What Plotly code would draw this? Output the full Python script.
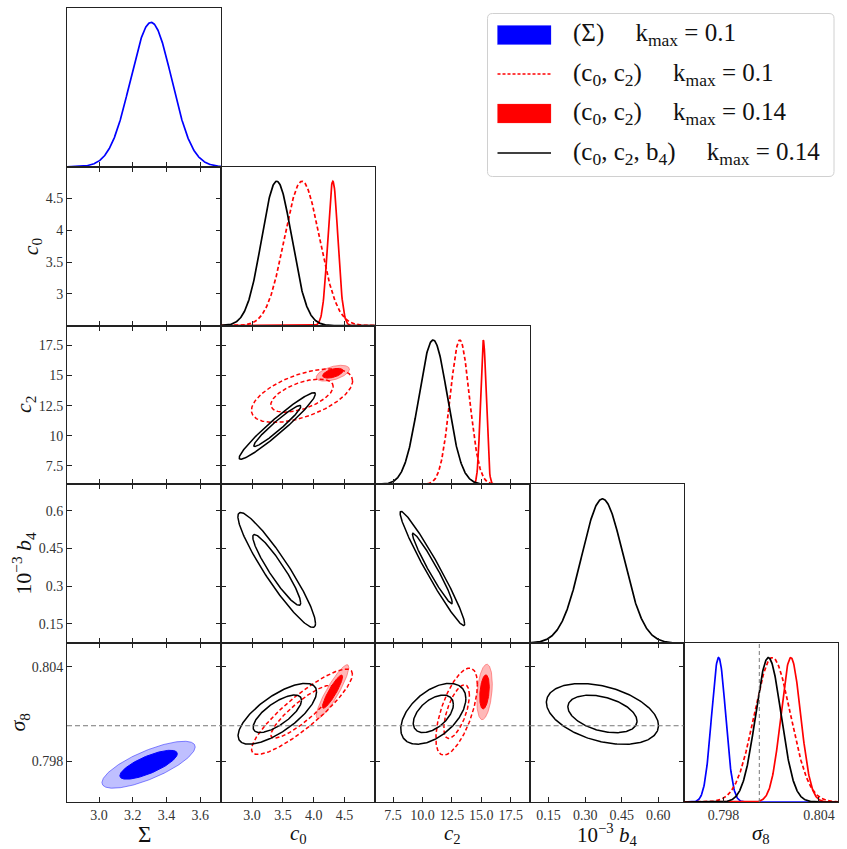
import numpy as np
import plotly.graph_objects as go

# ---------------- values ----------------
param_titles = ["Σ", "<i>c</i><sub>0</sub>", "<i>c</i><sub>2</sub>",
                "10<sup>−3</sup> <i>b</i><sub>4</sub>", "<i>σ</i><sub>8</sub>"]
x_ranges = [[2.81, 3.725], [2.5, 5.0], [6.0, 19.1], [0.072, 0.705], [0.7955, 0.8052]]
y_ranges = [None, [2.5, 5.0], [5.95, 19.15], [0.072, 0.705], [0.7954, 0.8055]]
tick_vals = [[3.0, 3.2, 3.4, 3.6], [3.0, 3.5, 4.0, 4.5], [7.5, 10.0, 12.5, 15.0, 17.5],
             [0.15, 0.30, 0.45, 0.60], [0.798, 0.804]]
x_tick_text = [["3.0", "3.2", "3.4", "3.6"], ["3.0", "3.5", "4.0", "4.5"],
               ["7.5", "10.0", "12.5", "15.0", "17.5"], ["0.15", "0.30", "0.45", "0.60"],
               ["0.798", "0.804"]]
y_tick_text = [None, ["3", "3.5", "4", "4.5"], ["7.5", "10", "12.5", "15", "17.5"],
               ["0.15", "0.3", "0.45", "0.6"], ["0.798", "0.804"]]

SP = "&nbsp;" * 5
legend_labels = [
    f"(Σ){SP}k<sub>max</sub> = 0.1",
    f"(c<sub>0</sub>, c<sub>2</sub>){SP}k<sub>max</sub> = 0.1",
    f"(c<sub>0</sub>, c<sub>2</sub>){SP}k<sub>max</sub> = 0.14",
    f"(c<sub>0</sub>, c<sub>2</sub>, b<sub>4</sub>){SP}k<sub>max</sub> = 0.14",
]
sigma8_fiducial = 0.80025
contour_masses = [0.68, 0.95]

# models: 0 = (Σ) k0.1 blue, 1 = (c0,c2) k0.1 red dashed,
#         2 = (c0,c2) k0.14 red filled, 3 = (c0,c2,b4) k0.14 black
# 1D marginals (mean, sd) per model, None = parameter not in model
marg_sigma = [(3.309, 0.122), None, None, None]
marg_c0 = [None, (3.81, 0.285), (4.31, 0.082), (3.40, 0.243)]
marg_c2 = [None, (13.17, 0.82), (15.17, 0.24), (10.90, 1.215)]
marg_b4 = [None, None, None, (0.371, 0.085)]
marg_s8 = [(0.79769, 0.00044), (0.80107, 0.00114), (0.80223, 0.00062), (0.80082, 0.00080)]

# 2D contours (mean x, mean y, sd x, sd y, correlation) per model
ell_s8_sigma = [(3.294, 0.79777, 0.113, 0.00061, 0.76), None, None, None]
ell_c2_c0 = [None, (3.81, 13.33, 0.335, 0.91, 0.55), (4.31, 15.19, 0.11, 0.27, 0.5),
             (3.41, 10.81, 0.253, 1.13, 0.96)]
ell_b4_c0 = [None, None, None, (3.40, 0.364, 0.257, 0.0936, -0.93)]
ell_b4_c2 = [None, None, None, (10.84, 0.37, 1.12, 0.093, -0.97)]
ell_s8_c0 = [None, (3.81, 0.80114, 0.334, 0.00111, 0.88), (4.305, 0.80242, 0.108, 0.0007, 0.9),
             (3.41, 0.80101, 0.26, 0.00079, 0.72)]
ell_s8_c2 = [None, (12.9, 0.80115, 0.72, 0.00113, 0.62), (15.27, 0.8024, 0.27, 0.00072, 0.3),
             (10.92, 0.80101, 1.13, 0.00079, 0.5)]
ell_s8_b4 = [None, None, None, (0.371, 0.801, 0.094, 0.00079, -0.38)]

# ---------------- assembly ----------------
marginals = [marg_sigma, marg_c0, marg_c2, marg_b4, marg_s8]
panels2d = {(4, 0): ell_s8_sigma, (2, 1): ell_c2_c0, (3, 1): ell_b4_c0, (3, 2): ell_b4_c2,
            (4, 1): ell_s8_c0, (4, 2): ell_s8_c2, (4, 3): ell_s8_b4}

styles = [
    dict(kind="fill", color="#0000ff", light="rgba(0,0,255,0.25)", edge="rgba(40,40,255,0.55)"),
    dict(kind="line", color="#ff0000", dash="4px,2.5px"),
    dict(kind="fill", color="#ff0000", light="rgba(255,0,0,0.28)", edge="rgba(255,60,60,0.5)"),
    dict(kind="line", color="#000000", dash="solid"),
]
draw_order = [0, 2, 1, 3]

N = 5
W, H = 847, 849
ML, MR, MT, MB = 67, 9, 8, 47
PW, PH = W - ML - MR, H - MT - MB
FONT = "Liberation Serif"
AXC = "#222222"


def ax_num(i, j):
    return i * (i + 1) // 2 + j + 1


def refs(n):
    return ("x" if n == 1 else f"x{n}"), ("y" if n == 1 else f"y{n}")


def px(xp):
    """page pixel x -> paper coordinate"""
    return (xp - ML) / PW


def py(yp):
    """page pixel y -> paper coordinate"""
    return (H - MB - yp) / PH


def ellipse(p, mass):
    mx, my, sx, sy, rho = p
    r = np.sqrt(-2.0 * np.log(1.0 - mass))
    t = np.linspace(0, 2 * np.pi, 241)
    cov = np.array([[sx * sx, rho * sx * sy], [rho * sx * sy, sy * sy]])
    L = np.linalg.cholesky(cov)
    pts = r * L @ np.vstack([np.cos(t), np.sin(t)])
    return mx + pts[0], my + pts[1]


fig = go.Figure()
layout = {}
annotations = []

for i in range(N):
    for j in range(i + 1):
        n = ax_num(i, j)
        xr, yr = refs(n)
        xname = "xaxis" if n == 1 else f"xaxis{n}"
        yname = "yaxis" if n == 1 else f"yaxis{n}"
        xa = dict(domain=[j / N, (j + 1) / N], range=x_ranges[j], anchor=yr,
                  showgrid=False, zeroline=False, showline=True, linecolor=AXC, linewidth=1.1,
                  ticks="inside", ticklen=5, tickwidth=1, tickcolor=AXC,
                  tickvals=tick_vals[j], ticktext=x_tick_text[j],
                  showticklabels=(i == N - 1),
                  tickfont=dict(family=FONT, size=14, color="#333"))
        ya = dict(domain=[1 - (i + 1) / N, 1 - i / N], anchor=xr,
                  showgrid=False, zeroline=False, showline=True, linecolor=AXC, linewidth=1.1,
                  tickfont=dict(family=FONT, size=14, color="#333"))
        if i == j:
            xa["mirror"] = True
            ya.update(range=[0, 1.1], ticks="", showticklabels=False, mirror=True)
        else:
            xa["mirror"] = "ticks"
            ya.update(range=y_ranges[i], ticks="inside", ticklen=5, tickwidth=1, tickcolor=AXC,
                      tickvals=tick_vals[i], ticktext=y_tick_text[i], mirror="ticks",
                      showticklabels=(j == 0))
        layout[xname] = xa
        layout[yname] = ya

        # an empty trace makes sure every panel frame is drawn
        fig.add_trace(go.Scatter(x=[], y=[], xaxis=xr, yaxis=yr, mode="lines",
                                 showlegend=False, hoverinfo="skip"))

        if i == j:
            xs = np.linspace(x_ranges[j][0], x_ranges[j][1], 400)
            for m in draw_order:
                mp = marginals[j][m]
                if mp is None:
                    continue
                mu, sd = mp
                yv = np.exp(-0.5 * ((xs - mu) / sd) ** 2)
                st = styles[m]
                fig.add_trace(go.Scatter(x=xs, y=yv, xaxis=xr, yaxis=yr, mode="lines",
                                         line=dict(color=st["color"], width=1.7,
                                                   dash=st.get("dash", "solid")),
                                         showlegend=False, hoverinfo="skip"))
        elif (i, j) in panels2d:
            plist = panels2d[(i, j)]
            for m in draw_order:
                p = plist[m]
                if p is None:
                    continue
                st = styles[m]
                if st["kind"] == "fill":
                    ex, ey = ellipse(p, contour_masses[1])
                    fig.add_trace(go.Scatter(x=ex, y=ey, xaxis=xr, yaxis=yr, mode="lines",
                                             fill="toself", fillcolor=st["light"],
                                             line=dict(color=st["edge"], width=1),
                                             showlegend=False, hoverinfo="skip"))
                    ex, ey = ellipse(p, contour_masses[0])
                    fig.add_trace(go.Scatter(x=ex, y=ey, xaxis=xr, yaxis=yr, mode="lines",
                                             fill="toself", fillcolor=st["color"],
                                             line=dict(color=st["color"], width=1),
                                             showlegend=False, hoverinfo="skip"))
                else:
                    for mass in contour_masses:
                        ex, ey = ellipse(p, mass)
                        fig.add_trace(go.Scatter(x=ex, y=ey, xaxis=xr, yaxis=yr, mode="lines",
                                                 line=dict(color=st["color"], width=1.5,
                                                           dash=st["dash"]),
                                                 showlegend=False, hoverinfo="skip"))

# axis titles (as annotations for exact placement under / beside the panels)
x_title_y = 834
y_title_x = [None, 32, 25, 24, 19]
for j in range(N):
    annotations.append(dict(xref="paper", yref="paper", x=(j + 0.5) / N, y=py(x_title_y),
                            xanchor="center", yanchor="middle", showarrow=False,
                            text=param_titles[j],
                            font=dict(family=FONT, size=23 if j == 0 else 21, color="#111")))
for i in range(1, N):
    annotations.append(dict(xref="paper", yref="paper", x=px(y_title_x[i]),
                            y=1 - (i + 0.5) / N, xanchor="center", yanchor="middle",
                            textangle=-90, showarrow=False, text=param_titles[i],
                            font=dict(family=FONT, size=22, color="#111")))

# fiducial sigma8 reference lines
shapes = []
for j in range(N - 1):
    n = ax_num(N - 1, j)
    xr, yr = refs(n)
    shapes.append(dict(type="line", xref=f"{xr} domain", yref=yr, x0=0, x1=1,
                       y0=sigma8_fiducial, y1=sigma8_fiducial,
                       line=dict(color="#777", width=1, dash="5px,3px")))
n = ax_num(N - 1, N - 1)
xr, yr = refs(n)
shapes.append(dict(type="line", xref=xr, yref=f"{yr} domain", x0=sigma8_fiducial,
                   x1=sigma8_fiducial, y0=0, y1=1,
                   line=dict(color="#777", width=1, dash="4px,3px")))

# hand-drawn legend box
bx0, bx1, by0, by1, rad = 487.5, 834, 13.5, 176.5, 5
path = (f"M {px(bx0 + rad)},{py(by0)} L {px(bx1 - rad)},{py(by0)} "
        f"Q {px(bx1)},{py(by0)} {px(bx1)},{py(by0 + rad)} L {px(bx1)},{py(by1 - rad)} "
        f"Q {px(bx1)},{py(by1)} {px(bx1 - rad)},{py(by1)} L {px(bx0 + rad)},{py(by1)} "
        f"Q {px(bx0)},{py(by1)} {px(bx0)},{py(by1 - rad)} L {px(bx0)},{py(by0 + rad)} "
        f"Q {px(bx0)},{py(by0)} {px(bx0 + rad)},{py(by0)} Z")
shapes.append(dict(type="path", xref="paper", yref="paper", path=path,
                   fillcolor="white", line=dict(color="#d0d0d0", width=1), layer="above"))

row_centers = [35, 74, 113.5, 153]
sym_x0, sym_x1 = 497.5, 551
for m, yc in enumerate(row_centers):
    st = styles[m]
    if st["kind"] == "fill":
        shapes.append(dict(type="rect", xref="paper", yref="paper",
                           x0=px(sym_x0), x1=px(sym_x1), y0=py(yc - 9.5), y1=py(yc + 9.5),
                           fillcolor=st["color"], line=dict(color=st["edge"], width=0.5),
                           layer="above"))
    else:
        shapes.append(dict(type="line", xref="paper", yref="paper",
                           x0=px(sym_x0), x1=px(sym_x1), y0=py(yc), y1=py(yc),
                           line=dict(color=st["color"], width=1.3 if m == 1 else 1.6,
                                     dash="3px,2px" if m == 1 else "solid"),
                           layer="above"))

for m, yc in enumerate(row_centers):
    annotations.append(dict(xref="paper", yref="paper", x=px(571), y=py(yc),
                            xanchor="left", yanchor="middle", showarrow=False,
                            text=legend_labels[m],
                            font=dict(family=FONT, size=25, color="#111")))

layout.update(width=W, height=H, margin=dict(l=ML, r=MR, t=MT, b=MB),
              paper_bgcolor="white", plot_bgcolor="white", showlegend=False,
              shapes=shapes, annotations=annotations)
fig.update_layout(**layout)
# remove the browser's default page margin so the figure fills the window exactly
fig.write_html("out.html", config={"displayModeBar": False},
               post_script="document.body.style.margin='0px';"
                           "document.body.style.overflow='hidden';")
